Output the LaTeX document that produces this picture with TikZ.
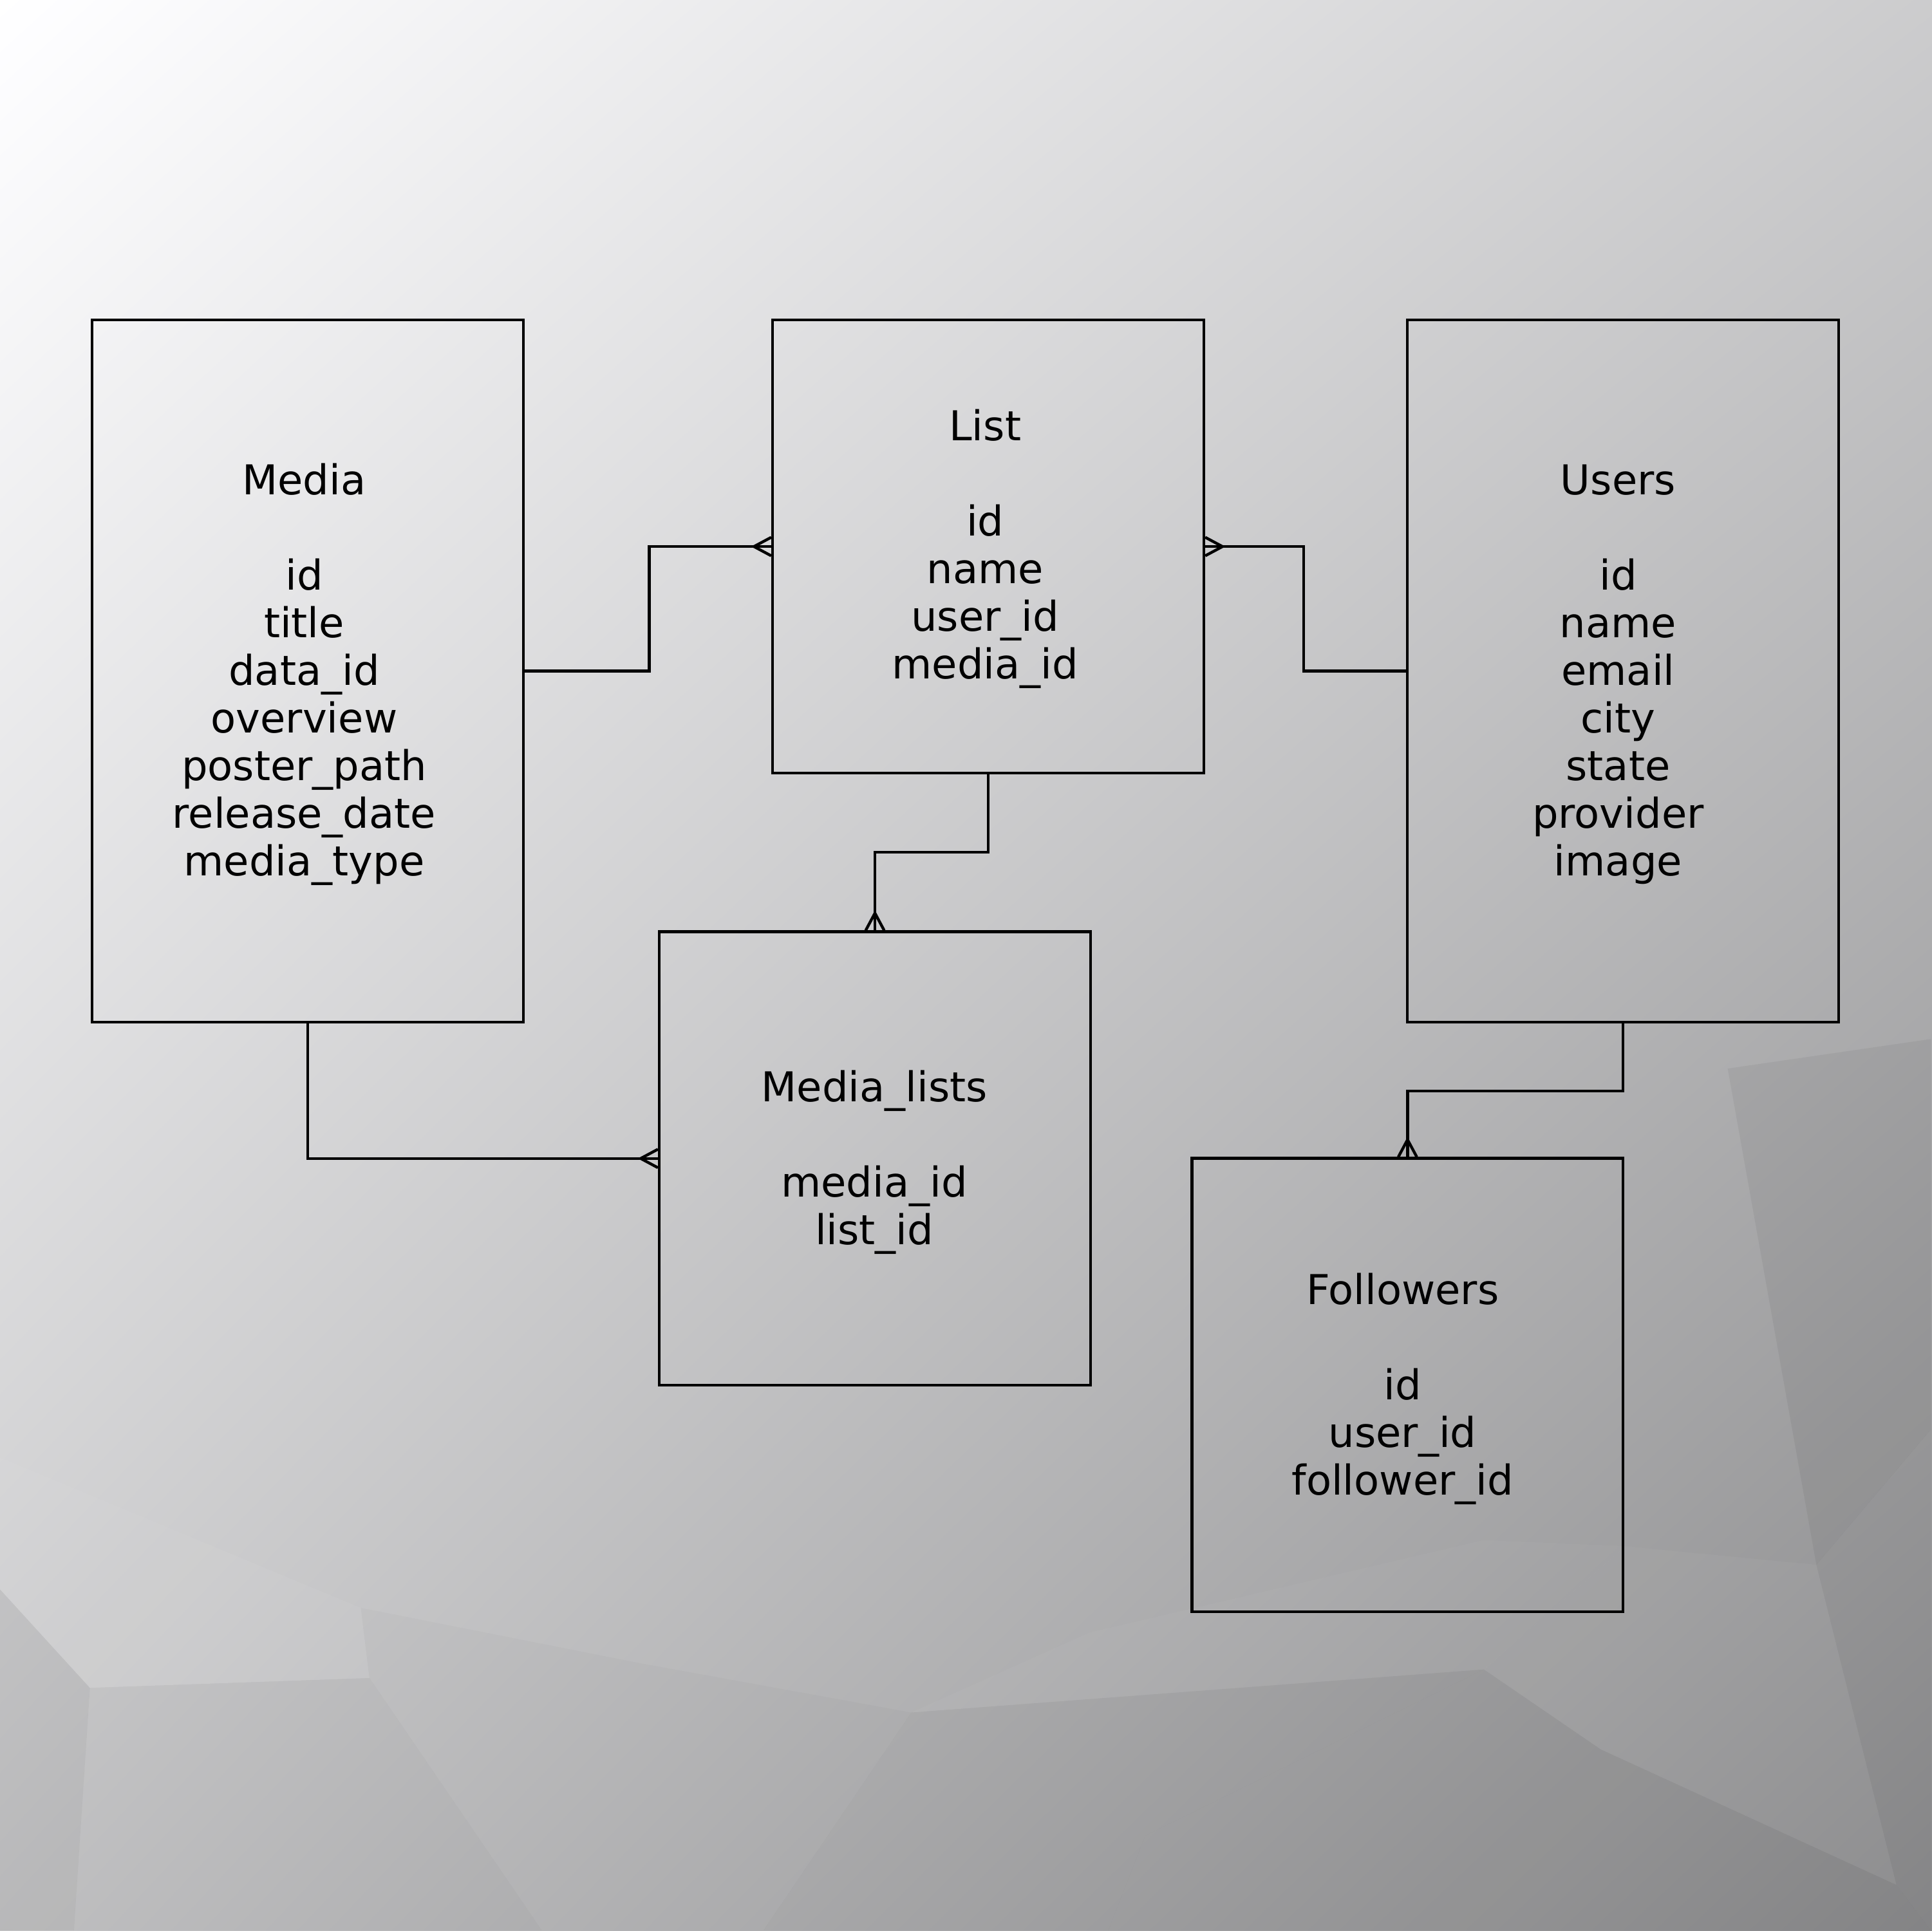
\documentclass[tikz,border=0pt]{standalone}
\usepackage{fontspec}
\setmainfont{DejaVu Sans}
\usetikzlibrary{calc}
\pgfdeclarefunctionalshading{bgshade}{\pgfpoint{0bp}{0bp}}{\pgfpoint{444.47bp}{444.19bp}}{}{
  444.19 exch sub 444.19 div
  exch 444.47 div
  2 copy mul 0.04 mul
  3 1 roll
  0.2 mul
  exch 0.22 mul add
  add 1 exch sub
  dup dup 0.006 add
}
\begin{document}
\begin{tikzpicture}[x=0.01cm,y=-0.01cm,
  entity/.style={draw=black,line width=0.65pt,inner sep=0pt,minimum width=3.5cm},
  tall/.style={minimum height=5.7cm},
  short/.style={minimum height=3.68cm},
  etext/.style={align=center,inner sep=0pt,font=\fontsize{9.5}{11}\selectfont},
  conn/.style={draw=black,line width=0.65pt},
  poly/.style={draw=none}]
% background
\node[inner sep=0pt,outer sep=0pt,anchor=south west] (bg) at (0,1567) {\pgfuseshading{bgshade}};
\useasboundingbox (0,0) rectangle (1568,1567);
\fill[white,opacity=0.04,poly] (0,1183) -- (293,1305) -- (300,1362) -- (73,1370) -- (0,1290) -- cycle;
\fill[black,opacity=0.07,poly] (0,1290) -- (73,1370) -- (60,1567) -- (0,1567) -- cycle;
\fill[black,opacity=0.04,poly] (73,1370) -- (300,1362) -- (440,1567) -- (60,1567) -- cycle;
\fill[black,opacity=0.02,poly] (293,1305) -- (520,1350) -- (740,1390) -- (620,1567) -- (440,1567) -- (300,1362) -- cycle;
\fill[black,opacity=0.04,poly] (740,1390) -- (1205,1355) -- (930,1490) -- (900,1567) -- (620,1567) -- cycle;
\fill[white,opacity=0.03,poly] (885,1325) -- (1205,1250) -- (1320,1255) -- (1205,1355) -- (740,1390) -- cycle;
\fill[black,opacity=0.05,poly] (1403,867) -- (1568,843) -- (1568,1160) -- (1475,1270) -- cycle;
\fill[black,opacity=0.03,poly] (1475,1270) -- (1568,1160) -- (1568,1567) -- (1540,1530) -- cycle;
\fill[black,opacity=0.04,poly] (1205,1355) -- (1300,1420) -- (1540,1530) -- (1568,1567) -- (900,1567) -- (930,1490) -- cycle;
\fill[white,opacity=0.03,poly] (1320,1255) -- (1475,1270) -- (1540,1530) -- (1300,1420) -- (1205,1355) -- cycle;
% entities
\node[entity,tall]  (media) at (250,544)  {};
\node[entity,short] (list)  at (802.5,443) {};
\node[entity,tall]  (users) at (1318,544) {};
\node[entity,short] (ml)    at (710.5,940) {};
\node[entity,short] (fol)   at (1143,1124) {};
\node[etext] (mediaT) at (247,547)  {Media\\[11pt]id\\title\\data\_id\\overview\\poster\_path\\release\_date\\media\_type};
\node[etext] (listT)  at (800,445) {List\\[11pt]id\\name\\user\_id\\media\_id};
\node[etext] (usersT) at (1314,547) {Users\\[11pt]id\\name\\email\\city\\state\\provider\\image};
\node[etext] (mlT)    at (710,943) {Media\_lists\\[11pt]media\_id\\list\_id};
\node[etext] (folT)   at (1139,1127) {Followers\\[11pt]id\\user\_id\\follower\_id};
% connectors
\draw[conn] (media.east) -- ++(101,0) |- (list.west);
\draw[conn] (users.west) -- ++(-83,0) |- (list.east);
\draw[conn] (list.south) -- ++(0,63) -| (ml.north);
\draw[conn] (media.south) |- (ml.west);
\draw[conn] (users.south) -- ++(0,55) -| (fol.north);
% crow's feet
\draw[conn] ($(list.west)+(0,-7.5)$) -- ($(list.west)+(-14,0)$) -- ($(list.west)+(0,7.5)$);
\draw[conn] ($(list.east)+(0,-7.5)$) -- ($(list.east)+(14,0)$) -- ($(list.east)+(0,7.5)$);
\draw[conn] ($(ml.north)+(-7.5,0)$) -- ($(ml.north)+(0,-14)$) -- ($(ml.north)+(7.5,0)$);
\draw[conn] ($(ml.west)+(0,-7.5)$) -- ($(ml.west)+(-14,0)$) -- ($(ml.west)+(0,7.5)$);
\draw[conn] ($(fol.north)+(-7.5,0)$) -- ($(fol.north)+(0,-14)$) -- ($(fol.north)+(7.5,0)$);
\end{tikzpicture}
\end{document}
